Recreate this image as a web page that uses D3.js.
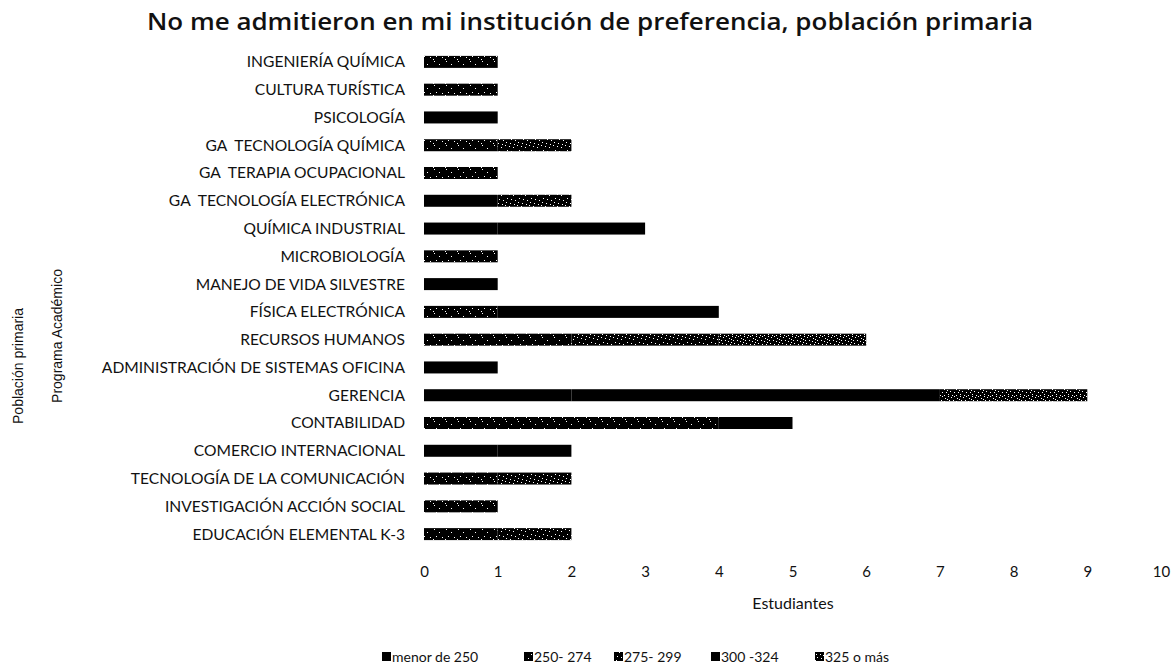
<!DOCTYPE html>
<html><head><meta charset="utf-8">
<script src="https://cdn.jsdelivr.net/npm/d3@7"></script>
<style>body{margin:0;background:#fff}svg{display:block}text{fill:#111;white-space:pre}</style>
</head><body><svg id="c" width="1176" height="669"></svg>
<script>
const categories = ["INGENIERÍA QUÍMICA","CULTURA TURÍSTICA","PSICOLOGÍA","GA  TECNOLOGÍA QUÍMICA","GA  TERAPIA OCUPACIONAL","GA  TECNOLOGÍA ELECTRÓNICA","QUÍMICA INDUSTRIAL","MICROBIOLOGÍA","MANEJO DE VIDA SILVESTRE","FÍSICA ELECTRÓNICA","RECURSOS HUMANOS","ADMINISTRACIÓN DE SISTEMAS OFICINA","GERENCIA","CONTABILIDAD","COMERCIO INTERNACIONAL","TECNOLOGÍA DE LA COMUNICACIÓN","INVESTIGACIÓN ACCIÓN SOCIAL","EDUCACIÓN ELEMENTAL K-3"];
const seriesNames = ["menor de 250","250- 274","275- 299","300 -324","325 o más"];
const s1 = [0,0,1,0,0,1,1,0,1,0,0,1,2,0,1,0,0,0];
const s2 = [1,1,0,1,1,0,0,1,0,1,2,0,0,4,0,1,1,1];
const s3 = [0,0,0,1,0,1,0,0,0,0,2,0,0,0,0,1,0,1];
const s4 = [0,0,0,0,0,0,2,0,0,3,0,0,5,1,1,0,0,0];
const s5 = [0,0,0,0,0,0,0,0,0,0,2,0,2,0,0,0,0,0];
const xTicks = [0,1,2,3,4,5,6,7,8,9,10];

const FONT = "Lato, 'Open Sans', sans-serif";
const svg = d3.select("#c");
const defs = svg.append("defs");
function pat(id, dots){
  const p = defs.append("pattern").attr("id",id).attr("patternUnits","userSpaceOnUse").attr("width",12).attr("height",12);
  p.append("rect").attr("width",12).attr("height",12).attr("fill","#000");
  dots.forEach(d=>p.append("rect").attr("x",d[0]).attr("y",d[1]).attr("width",1).attr("height",1).attr("fill","#fff"));
}
pat("p2", [[2,1],[7,4],[10,9],[4,8],[1,11]]);
pat("p3", [[1,1],[5,2],[9,3],[3,6],[7,7],[11,8],[2,10],[6,11],[10,0]]);
pat("p5", [[0,0],[3,1],[6,0],[9,2],[1,4],[5,4],[8,5],[11,6],[2,7],[6,8],[10,8],[0,10],[4,11],[8,11],[11,3]]);
const fills = ["#000","url(#p2)","url(#p3)","#000","url(#p5)"];

const x = d3.scaleLinear().domain([0,10]).range([424,1161]);
const y = d3.scaleBand().domain(categories).range([48,548]);
const barH = 12;

const rows = categories.map((c,i)=>({cat:c,s1:s1[i],s2:s2[i],s3:s3[i],s4:s4[i],s5:s5[i]}));
const keys = ["s1","s2","s3","s4","s5"];
const stack = d3.stack().keys(keys)(rows);

svg.append("g").selectAll("g").data(stack).join("g")
  .attr("fill",(d,i)=>fills[i])
  .selectAll("rect").data(d=>d.filter(v=>v[1]>v[0])).join("rect")
  .attr("x",d=>x(d[0])).attr("width",d=>x(d[1])-x(d[0]))
  .attr("y",d=>y(d.data.cat)+y.bandwidth()/2-barH/2).attr("height",barH);

// category labels
svg.append("g").selectAll("text").data(categories).join("text")
  .attr("x",405).attr("y",d=>y(d)+y.bandwidth()/2).attr("dy","0.35em")
  .attr("text-anchor","end").attr("font-size",15.6).attr("font-family",FONT).text(d=>d);

// x axis
const xa = svg.append("g").attr("transform","translate(0,566)")
  .call(d3.axisBottom(x).tickValues(xTicks).tickSize(0).tickPadding(0));
xa.select(".domain").remove();
xa.selectAll("text").attr("font-size",15).attr("font-family",FONT).attr("fill","#111");

svg.append("text").attr("x",793).attr("y",609).attr("text-anchor","middle").attr("font-size",16).attr("font-family",FONT).text("Estudiantes");
svg.append("text").attr("x",590).attr("y",30).attr("text-anchor","middle").attr("font-size",23).attr("font-weight",600)
  .attr("font-family","'Open Sans', sans-serif").attr("textLength",886).attr("lengthAdjust","spacingAndGlyphs")
  .text("No me admitieron en mi institución de preferencia, población primaria");

svg.append("text").attr("transform","translate(23,366) rotate(-90)").attr("text-anchor","middle").attr("font-size",14).attr("font-family","'Liberation Sans',sans-serif").text("Población primaria");
svg.append("text").attr("transform","translate(62,336) rotate(-90)").attr("text-anchor","middle").attr("font-size",14).attr("font-family","'Liberation Sans',sans-serif").text("Programa Académico");

// legend
const legX = [382,524,614,711,815];
const lg = svg.append("g").selectAll("g").data(seriesNames).join("g")
  .attr("transform",(d,i)=>`translate(${legX[i]},662)`);
lg.append("rect").attr("x",0).attr("y",-10).attr("width",9).attr("height",9).attr("fill",(d,i)=>fills[i]);
lg.append("text").attr("x",10).attr("y",0).attr("font-size",14).attr("font-family",FONT).text(d=>d);
</script></body></html>
